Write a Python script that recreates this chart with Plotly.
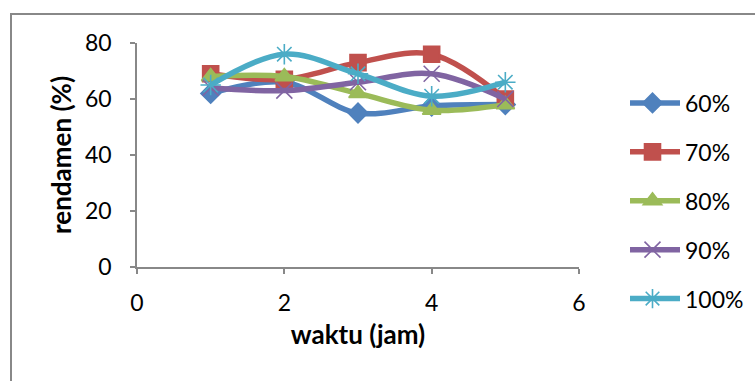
import plotly.graph_objects as go

# waktu (jam)
waktu = [1, 2, 3, 4, 5]

# rendamen (%) per konsentrasi
series_names = ["60%", "70%", "80%", "90%", "100%"]
r60 = [62, 66, 55, 57.5, 58]
r70 = [69, 67, 73, 76, 60]
r80 = [68, 68, 62, 56, 58]
r90 = [64, 63, 66, 69, 60]
r100 = [65, 76, 69, 61, 66]

x_ticks = [0, 2, 4, 6]
y_ticks = [0, 20, 40, 60, 80]

values = [r60, r70, r80, r90, r100]
colors = ["#4F81BD", "#C0504D", "#9BBB59", "#8064A2", "#4BACC6"]
symbols = ["diamond", "square", "triangle-up", "x-thin-open", "asterisk-open"]
sizes = [15, 16, 16, 16, 17]

FONT = "Lato, Carlito, 'Open Sans', sans-serif"
FS = 23
FS_TITLE = 26

fig = go.Figure()
for i, (name, vals) in enumerate(zip(series_names, values)):
    fig.add_trace(go.Scatter(
        x=waktu, y=vals, name=name, mode="lines+markers",
        legendgroup=name,
        line=dict(color=colors[i], width=5.5, shape="spline", smoothing=1),
        marker=dict(symbol=symbols[i], size=sizes[i], color=colors[i],
                    line=dict(color=colors[i], width=1.6)),
    ))

L, R, T, B = 137, 176, 43, 114
W, H = 755, 381
pw, ph = W - L - R, H - T - B

def px_x(px):
    return (px - L) / pw

def px_y(py):
    return (H - B - py) / ph

axis_common = dict(
    showgrid=False, zeroline=False, showline=True, linecolor="#888888",
    linewidth=1.5, ticks="outside", tickcolor="#888888", ticklen=5,
    tickwidth=1.5, tickfont=dict(family=FONT, size=FS, color="#000"),
    automargin=False,
)

fig.update_layout(
    width=W, height=H,
    margin=dict(l=L, r=R, t=T, b=B, autoexpand=False),
    paper_bgcolor="white", plot_bgcolor="white",
    font=dict(family=FONT, color="#000"),
    xaxis=dict(range=[0, 6], tickvals=x_ticks, ticklabelstandoff=10,
               title=dict(text="<b>waktu (jam)</b>", font=dict(family=FONT, size=FS_TITLE), standoff=10),
               **axis_common),
    yaxis=dict(range=[0, 80], tickvals=y_ticks, ticklabelstandoff=14,
               title=dict(text="<b>rendamen (%)</b>", font=dict(family=FONT, size=FS_TITLE), standoff=6),
               **axis_common),
    showlegend=True,
    legend=dict(xref="container", yref="container",
                x=630 / W, xanchor="left", y=1 - 201 / H, yanchor="middle",
                font=dict(family=FONT, size=FS, color="#000"),
                itemwidth=55, tracegroupgap=16, bgcolor="rgba(0,0,0,0)",
                indentation=-10, maxheight=381),
    shapes=[dict(type="rect", xref="paper", yref="paper",
                 x0=px_x(11), x1=px_x(790), y0=px_y(420), y1=px_y(14),
                 line=dict(color="#888888", width=2), fillcolor="rgba(0,0,0,0)",
                 layer="below")],
)

fig.write_html("out.html")
